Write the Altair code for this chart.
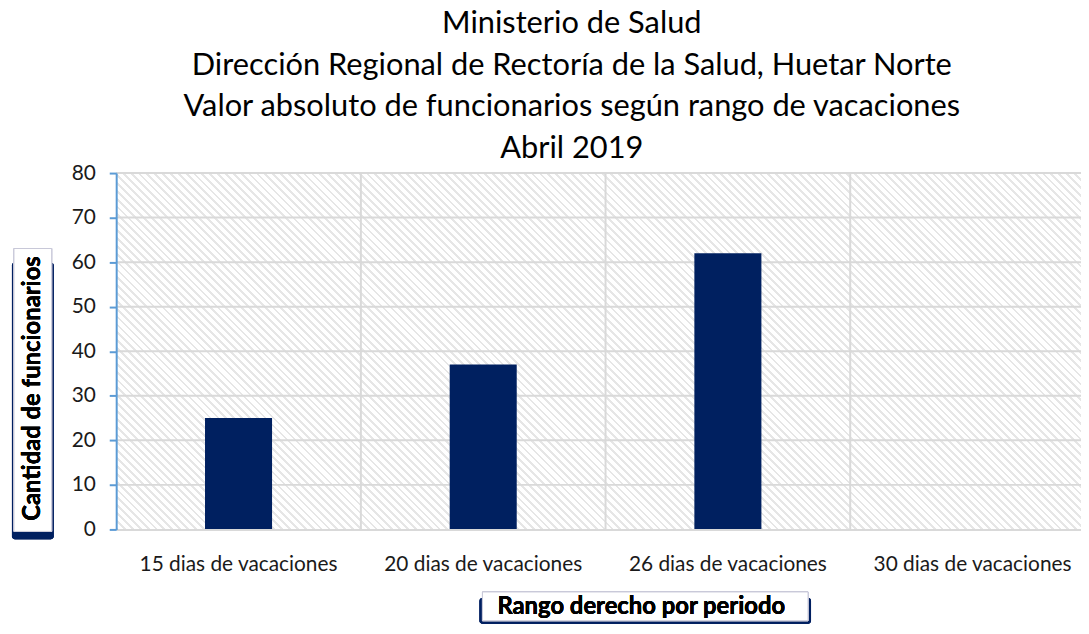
import altair as alt
import pandas as pd

categories = ["15 dias de vacaciones", "20 dias de vacaciones", "26 dias de vacaciones", "30 dias de vacaciones"]
values = [25, 37, 62, 0]
y_ticks = [0, 10, 20, 30, 40, 50, 60, 70, 80]
title_lines = [
    "Ministerio de Salud",
    "Dirección Regional de Rectoría de la Salud, Huetar Norte",
    "Valor absoluto de funcionarios según rango de vacaciones",
    "Abril 2019",
]
y_title = "Cantidad de funcionarios"
x_title = "Rango derecho por periodo"

df = pd.DataFrame({"cat": categories, "val": values})
df_ticks = pd.DataFrame({"tick": y_ticks[1:]})

W, H = 986, 359
FONT = "Lato"
NAVY = "#002060"

# diagonal hatch background built as a striped linear gradient
t = (W + H) / (W * W + H * H)
x2 = W * t
y2 = 1 - H * t
diag = (W + H) / 2 ** 0.5
period = 5.6
n = int(diag / period) + 1
stops = []
for i in range(n):
    a = i * period / diag
    b = (i * period + 2.0) / diag
    c = (i + 1) * period / diag
    a, b, c = min(a, 1), min(b, 1), min(c, 1)
    stops += [
        alt.GradientStop(offset=round(a, 6), color="#e6e6e6"),
        alt.GradientStop(offset=round(b, 6), color="#e6e6e6"),
        alt.GradientStop(offset=round(b, 6), color="#ffffff"),
        alt.GradientStop(offset=round(c, 6), color="#ffffff"),
    ]
hatch = alt.LinearGradient(gradient="linear", stops=stops, x1=0, y1=1, x2=x2, y2=y2)

xscale = alt.Scale(paddingInner=0, paddingOuter=0)
yscale = alt.Scale(domain=[0, 80])

x_axis = alt.Axis(
    title=None, labelAngle=0, labelFontSize=21, labelFont=FONT, labelColor="#1a1a1a",
    ticks=False, domainColor="#d9d9d9", domainWidth=2, labelPadding=24, grid=False,
    labelLimit=400, bandPosition=0.5, zindex=1,
)
y_axis = alt.Axis(
    title=None, values=y_ticks, labelFontSize=21, labelFont=FONT,
    labelColor="#1a1a1a", domainColor="#5b9bd5", domainWidth=2, tickColor="#5b9bd5",
    tickWidth=2, tickSize=7, labelPadding=14, grid=False, zindex=1,
)

bg = alt.Chart(df).mark_rect(fill=hatch).encode(
    x=alt.value(0), x2=alt.value(W), y=alt.value(0), y2=alt.value(H)
)

hgrid = alt.Chart(df_ticks).mark_rule(color="#d9d9d9", strokeWidth=2).encode(
    y=alt.Y("tick:Q", scale=yscale, axis=y_axis),
)

vgrid = alt.Chart(df.iloc[1:]).mark_rule(color="#d9d9d9", strokeWidth=2).encode(
    x=alt.X("cat:N", bandPosition=0, scale=xscale, sort=categories, axis=x_axis),
)

bars = alt.Chart(df).mark_bar(color=NAVY, width=alt.RelativeBandSize(0.274)).encode(
    x=alt.X("cat:N", sort=categories, scale=xscale, axis=x_axis),
    y=alt.Y("val:Q", scale=yscale, axis=y_axis),
)

# boxed axis titles
ybox_shadow = alt.Chart(df).mark_rect(color=NAVY, opacity=0.85, cornerRadius=3).encode(
    x=alt.value(-105), x2=alt.value(-63), y=alt.value(90), y2=alt.value(369)
)
ybox = alt.Chart(df).mark_rect(color="white", stroke="#c8c8d8", strokeWidth=1).encode(
    x=alt.value(-103), x2=alt.value(-65), y=alt.value(76), y2=alt.value(361)
)
ytext = alt.Chart(df).mark_text(
    text=y_title, angle=270, fontSize=24, fontWeight="bold", font=FONT, color="black"
).encode(x=alt.value(-84), y=alt.value(217))

xbox_shadow = alt.Chart(df).mark_rect(color=NAVY, opacity=0.85, cornerRadius=3).encode(
    x=alt.value(366), x2=alt.value(700), y=alt.value(428), y2=alt.value(454)
)
xbox = alt.Chart(df).mark_rect(color="white", stroke="#c8c8d8", strokeWidth=1).encode(
    x=alt.value(369), x2=alt.value(697), y=alt.value(422), y2=alt.value(451)
)
xtext = alt.Chart(df).mark_text(
    text=x_title, fontSize=24, fontWeight="bold", font=FONT, color="black"
).encode(x=alt.value(529), y=alt.value(437))

chart = alt.layer(
    bg, hgrid, vgrid, bars, ybox_shadow, ybox, ytext, xbox_shadow, xbox, xtext
).properties(
    width=W,
    height=H,
    title=alt.TitleParams(
        text=title_lines, fontSize=31, font=FONT, fontWeight="normal", color="black",
        anchor="middle", frame="group", lineHeight=42, offset=-3, dx=-34,
    ),
    autosize=alt.AutoSizeParams(type="none"),
    padding={"left": 109, "top": 164, "right": -14, "bottom": 95},
).configure_view(stroke=None)

chart.save("out.html", embed_options={"renderer": "svg", "actions": False})
